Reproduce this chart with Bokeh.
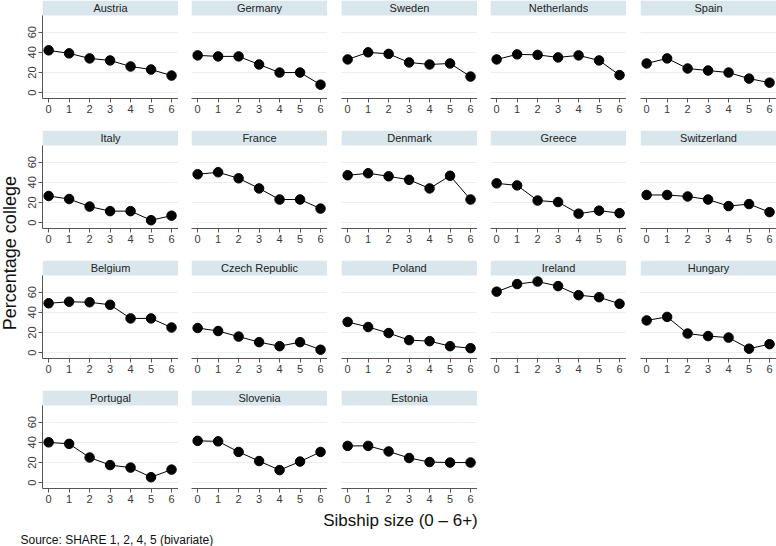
import math
from bokeh.plotting import figure
from bokeh.models import Range1d, FixedTicker, BoxAnnotation, Label, GridPlot
from bokeh.embed import file_html
from bokeh.resources import INLINE

# ---------------- data ----------------
sibship = [0, 1, 2, 3, 4, 5, 6]
y_ticks = [0, 20, 40, 60]
countries = ["Austria", "Germany", "Sweden", "Netherlands", "Spain",
             "Italy", "France", "Denmark", "Greece", "Switzerland",
             "Belgium", "Czech Republic", "Poland", "Ireland", "Hungary",
             "Portugal", "Slovenia", "Estonia"]
austria = [42, 39, 34, 32, 26, 23, 17]
germany = [37, 36, 36, 28, 20, 20, 8]
sweden = [33, 40, 38.5, 30, 28, 29, 16]
netherlands = [33, 38, 37.5, 35, 37, 32, 17.5]
spain = [29, 34, 24, 22, 20, 14, 10]
italy = [26.5, 23.5, 16, 11.5, 11.5, 2.5, 7]
france = [48, 50, 44, 34, 23, 23, 14]
denmark = [47, 49, 46, 42.5, 34, 46.5, 23]
greece = [39, 37, 22, 20.5, 9, 12, 9.5]
switzerland = [27.5, 27.5, 26, 23, 16.5, 18.5, 10.5]
belgium = [49, 50.5, 50, 47.5, 34, 34, 25]
czech_republic = [24.5, 21.5, 16, 10.5, 6.5, 10.5, 3]
poland = [30.5, 25.5, 19.5, 12.5, 11.5, 6.5, 4.5]
ireland = [60.5, 68, 70.5, 66, 57, 55, 48.5]
hungary = [32, 35.5, 19, 16.5, 15, 4, 8.5]
portugal = [40, 38.5, 25, 17.5, 15, 5.5, 13]
slovenia = [41.5, 41, 30.5, 21.5, 12.5, 21, 30.5]
estonia = [36.5, 36.5, 31, 24.5, 20.5, 20, 20]
series = [austria, germany, sweden, netherlands, spain,
          italy, france, denmark, greece, switzerland,
          belgium, czech_republic, poland, ireland, hungary,
          portugal, slovenia, estonia]

y_title = "Percentage college"
x_title = "Sibship size (0 \u2013 6+)"
note = "Source: SHARE 1, 2, 4, 5 (bivariate)"

# ---------------- style / layout ----------------
FONT = "Liberation Sans"
STRIP = "#d9e6eb"
GRID = "#e8f0f2"
AX = "#555555"
TICK_TXT = "#3a3a3a"
NCOL = 5
X0, X1 = -0.3, 6.34
Y0, Y1 = -5.7, 76.5
FRAME_W = 136
PLOT_H = 83
STRIP_H = 15
UPP = (Y1 - Y0) / PLOT_H
YS = Y1 + STRIP_H * UPP
YLAB_W = 22
LEFT0 = 20
GAPS = [13, 14, 13, 14]
BELOW = 32
BELOW_LAST = 20

children = []
row_heights = []
nrows = (len(countries) + NCOL - 1) // NCOL
for i, (name, vals) in enumerate(zip(countries, series)):
    r, c = divmod(i, NCOL)
    below = BELOW if r < nrows - 1 else BELOW_LAST
    p = figure(frame_width=FRAME_W, frame_height=PLOT_H + STRIP_H,
               x_range=Range1d(X0, X1), y_range=Range1d(Y0, YS),
               output_backend="svg", toolbar_location=None,
               min_border_left=LEFT0 if c == 0 else GAPS[c - 1], min_border_right=0,
               min_border_top=0, min_border_bottom=below)
    p.title.visible = False
    p.outline_line_color = None
    p.background_fill_color = "white"
    p.border_fill_color = "white"
    p.xgrid.visible = False
    p.ygrid.ticker = FixedTicker(ticks=y_ticks)
    p.ygrid.grid_line_color = GRID
    p.ygrid.grid_line_width = 1

    p.xaxis.ticker = FixedTicker(ticks=sibship)
    p.xaxis.axis_line_color = AX
    p.xaxis.major_tick_line_color = AX
    p.xaxis.major_tick_out = 4
    p.xaxis.major_tick_in = 0
    p.xaxis.minor_tick_line_color = None
    p.xaxis.major_label_text_font = FONT
    p.xaxis.major_label_text_font_size = "11px"
    p.xaxis.major_label_text_font_style = "normal"
    p.xaxis.major_label_text_color = TICK_TXT
    p.xaxis.major_label_standoff = 2

    if c == 0:
        p.yaxis.ticker = FixedTicker(ticks=y_ticks)
        p.yaxis.bounds = (Y0, Y1)
        p.yaxis.axis_line_color = AX
        p.yaxis.major_tick_line_color = AX
        p.yaxis.major_tick_out = 4
        p.yaxis.major_tick_in = 0
        p.yaxis.minor_tick_line_color = None
        p.yaxis.major_label_orientation = "vertical"
        p.yaxis.major_label_text_font = FONT
        p.yaxis.major_label_text_font_size = "11px"
        p.yaxis.major_label_text_font_style = "normal"
        p.yaxis.major_label_text_color = TICK_TXT
        p.yaxis.major_label_standoff = 2
    else:
        p.yaxis.visible = False

    p.add_layout(BoxAnnotation(bottom=Y1, fill_color=STRIP, fill_alpha=1.0,
                               line_color=None, level="underlay"))
    p.add_layout(Label(x=(X0 + X1) / 2, y=(Y1 + YS) / 2, text=name,
                       text_align="center", text_baseline="middle",
                       text_font=FONT, text_font_size="11px",
                       text_font_style="normal", text_color="#222222"))

    p.line(sibship, vals, line_color="black", line_width=1)
    p.scatter(sibship, vals, size=9.5, fill_color="black", line_color="black")
    children.append((p, r, c + 1))
    if c == 0:
        row_heights.append(STRIP_H + PLOT_H + below)

GRID_H = sum(row_heights)
TOTAL_W = YLAB_W + LEFT0 + FRAME_W + sum(g + FRAME_W for g in GAPS)

ylab = figure(width=YLAB_W, height=GRID_H, x_range=Range1d(0, YLAB_W),
              y_range=Range1d(0, GRID_H), output_backend="svg",
              toolbar_location=None, min_border=0)
ylab.title.visible = False
ylab.axis.visible = False
ylab.grid.visible = False
ylab.outline_line_color = None
ylab.add_layout(Label(x=9, y=GRID_H - 263, text=y_title, angle=math.pi / 2,
                      text_align="center", text_baseline="middle",
                      text_font=FONT, text_font_size="18px",
                      text_font_style="normal", text_color="#111111"))
children.append((ylab, 0, 0, nrows, 1))

FOOT_H = 38
foot = figure(width=TOTAL_W, height=FOOT_H, x_range=Range1d(0, TOTAL_W),
              y_range=Range1d(0, FOOT_H), output_backend="svg",
              toolbar_location=None, min_border=0)
foot.title.visible = False
foot.axis.visible = False
foot.grid.visible = False
foot.outline_line_color = None
foot.add_layout(Label(x=400, y=FOOT_H - 12, text=x_title,
                      text_align="center", text_baseline="middle",
                      text_font=FONT, text_font_size="17px",
                      text_font_style="normal", text_color="#111111"))
foot.add_layout(Label(x=20, y=7, text=note, text_align="left", text_baseline="middle",
                      text_font=FONT, text_font_size="12px",
                      text_font_style="normal", text_color="#111111"))
children.append((foot, nrows, 0, 1, NCOL + 1))

grid = GridPlot(children=children, toolbar_location=None)

open("out.html", "w").write(file_html(grid, INLINE))
